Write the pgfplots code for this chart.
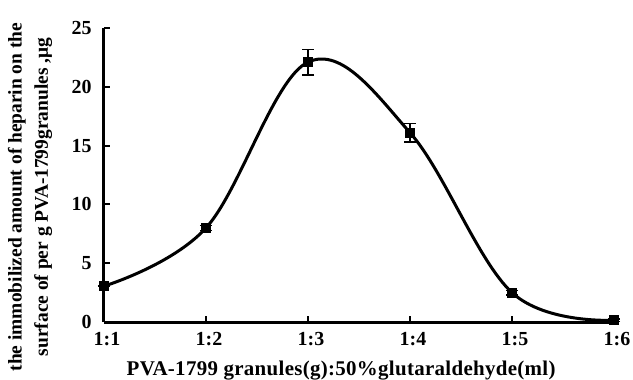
\documentclass[border=0pt]{standalone}
\usepackage{pgfplots}
\pgfplotsset{compat=1.18}
\usepackage{fontspec}
\setmainfont{Liberation Serif}
\begin{document}
\begin{tikzpicture}
\begin{axis}[
  at={(0,0)}, anchor=south west,
  scale only axis, width=510bp, height=294bp,
  xmin=0, xmax=5, ymin=0, ymax=25,
  axis lines*=left,
  axis line style={line width=3bp},
  tick align=inside,
  major tick length=6bp,
  tick style={line width=2bp, black},
  xtick={0,...,5}, xticklabels={1:1,1:2,1:3,1:4,1:5,1:6},
  ytick={0,5,...,25},
  tick label style={font=\fontsize{20}{22}\selectfont\bfseries},
  /pgf/number format/assume math mode=true,
  yticklabel style={xshift=-9bp},
  xticklabel style={yshift=-7bp, xshift=3bp},
  xlabel={PVA-1799 granules(g):50\%glutaraldehyde(ml)},
  ylabel={the immobilized amount of heparin on the\\surface of per g PVA-1799granules ,μg},
  xlabel style={font=\fontsize{21}{26}\selectfont\bfseries\addfontfeatures{LetterSpace=1.5}, at={(axis description cs:0.465,-0.165)}, anchor=center},
  ylabel style={font=\fontsize{19.5}{26.5}\selectfont\bfseries, align=center, at={(axis description cs:-0.145,0.425)}, anchor=center},
  clip=false,
]
\addplot[black, line width=3bp, smooth, tension=0.6, mark=square*, mark size=4.5bp, mark options={solid, line width=1bp},
  error bars/.cd, y dir=both, y explicit,
  error bar style={line width=1.3bp, black},
  error mark options={rotate=90, mark size=6bp, line width=1.3bp, black}]
 coordinates {(0,3.05)+-(0,0) (1,8.0)+-(0,0.2) (2,22.1)+-(0,1.1) (3,16.1)+-(0,0.8) (4,2.5)+-(0,0.2) (5,0.15)+-(0,0.1)};
\end{axis}
\pgfresetboundingbox
\path[use as bounding box] (-104bp,-58bp) rectangle (529bp,322bp);
\end{tikzpicture}
\end{document}
